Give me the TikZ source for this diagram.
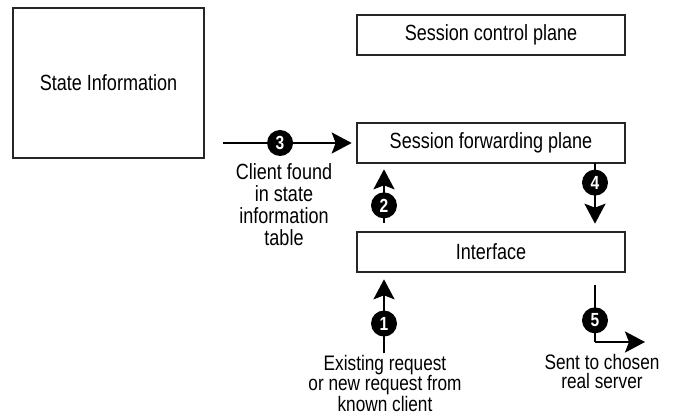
\documentclass[tikz,border=0pt]{standalone}
\usepackage{fontspec}
\setmainfont{Liberation Sans}[FakeStretch=0.82]
\usetikzlibrary{arrows.meta}
\begin{document}
\begin{tikzpicture}[x=1pt,y=-1pt,
  box/.style={draw=black!85,line width=2.6pt,fill=white,inner sep=0pt,font=\fontsize{22}{22}\selectfont},
  arr/.style={line width=2.4pt,-{Stealth[length=20pt,width=21pt,inset=4pt]}},
  plain/.style={line width=2.4pt},
  badge/.style={circle,fill=black,text=white,inner sep=0pt,minimum size=26pt,font=\bfseries\fontsize{19}{19}\selectfont},
  note/.style={align=center,inner sep=0pt,anchor=north}]
\useasboundingbox (0,0) rectangle (675,417);

% boxes
\node[box,minimum width=191pt,minimum height=150pt] (state) at (108.5,83) {State Information};
\node[box,minimum width=268pt,minimum height=40pt] (ctrl) at (491,35) {Session control plane};
\node[box,minimum width=268pt,minimum height=40pt] (fwd) at (491,143) {Session forwarding plane};
\node[box,minimum width=268pt,minimum height=40pt] (iface) at (491,252) {Interface};

% step 3: lookup in state table
\coordinate (s3) at (223,143);
\draw[arr,shorten >=4pt] (s3) -- (fwd.west) node[pos=0.43,badge] {3};
\node[note,font=\fontsize{22}{22}\selectfont] (n3) at (284,163) {Client found\\in state\\information\\table};

% step 2: interface up to forwarding plane
\coordinate (a2) at (384,223);
\draw[arr,shorten >=5pt] (a2) -- (a2 |- fwd.south) node[pos=0.3,badge] {2};

% step 4: forwarding plane down to interface
\coordinate (a4) at (595,163);
\draw[arr,shorten >=7pt] (a4) -- (a4 |- iface.north) node[pos=0.29,badge] {4};

% step 1: incoming request
\coordinate (a1) at (384,353);
\draw[arr,shorten >=6pt] (a1) -- (a1 |- iface.south) node[pos=0.37,badge] {1};
\node[note,font=\fontsize{21}{18.5}\selectfont] (n1) at (385,355) {Existing request\\or new request from\\known client};

% step 5: out to the real server
\coordinate (a5) at (595,285);
\coordinate (b5) at (595,342);
\coordinate (c5) at (645,342);
\draw[plain] (a5) -- (b5) node[pos=0.62,badge] {5};
\draw[arr] (b5) -- (c5);
\node[note,font=\fontsize{21}{19}\selectfont] (n5) at (602,354) {Sent to chosen\\real server};
\end{tikzpicture}
\end{document}
